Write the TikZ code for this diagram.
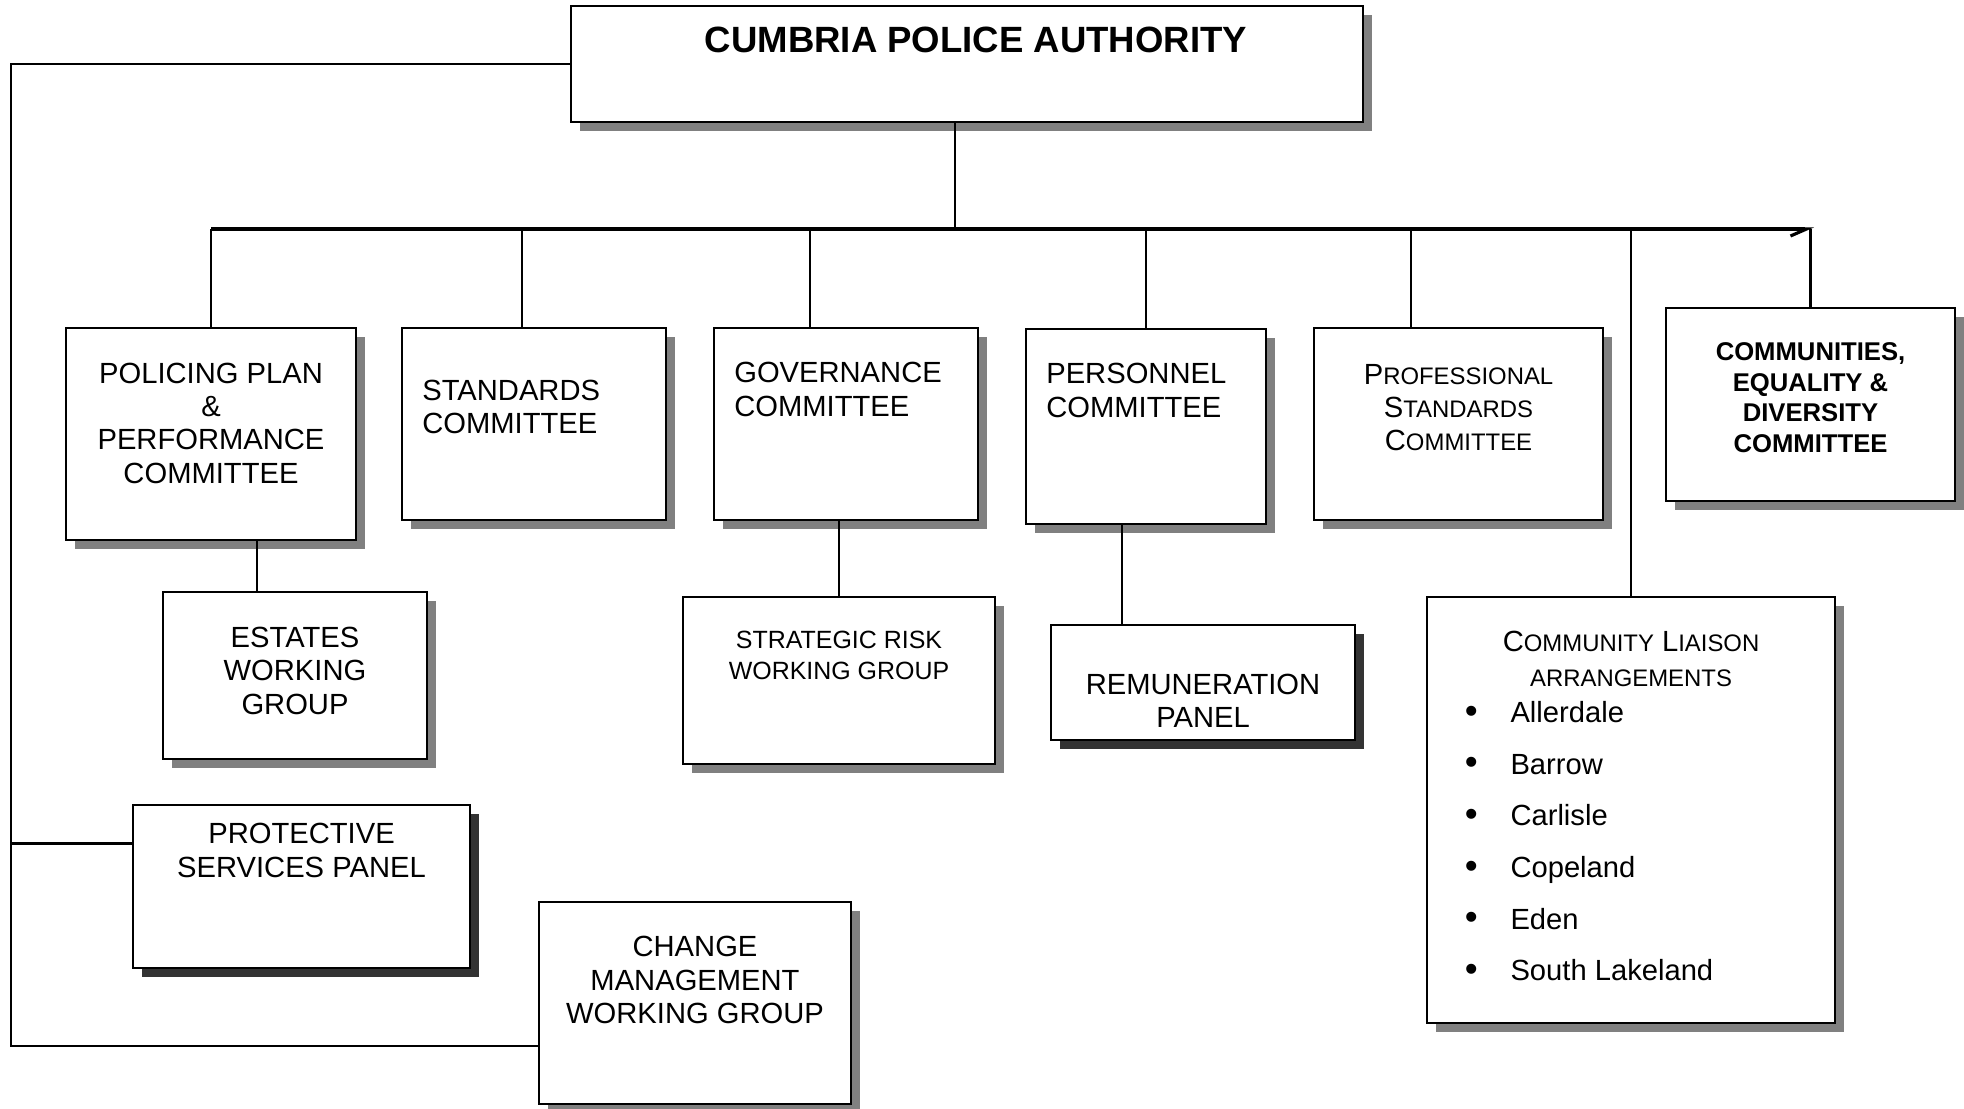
\documentclass[tikz,border=0pt]{standalone}
\usepackage{fontspec}
\setmainfont{Liberation Sans}
\usepackage{tikz}
\usetikzlibrary{arrows.meta,shadows,positioning,calc}
\definecolor{shadegray}{RGB}{128,128,128}
\definecolor{shadedark}{RGB}{51,51,51}
\newcommand{\sca}[1]{{\fontsize{6.8}{8}\selectfont #1}}
\newcommand{\blt}{\makebox[13pt][l]{\raisebox{-0.2pt}{\fontsize{10.5}{10}\selectfont\textbullet}}}

\begin{document}
\begin{tikzpicture}[
    unit/.style={rectangle, draw, fill=white, line width=0.8pt, inner sep=0pt,
        drop shadow={shadow xshift=0.09cm, shadow yshift=-0.09cm, fill=#1, opacity=1}},
    unit/.default=shadegray,
    txt/.style={align=center, inner sep=0pt, yshift=-0.025cm, font=\fontsize{8.3}{9.5}\selectfont},
    lefttxt/.style={txt, align=left},
    link/.style={line width=0.6pt},
    bus/.style={line width=0.9pt}
]
    \useasboundingbox (0,0) rectangle (19.64,-11.08);

    \node[unit, minimum width=7.92cm, minimum height=1.16cm] (cpa) at (9.67,-0.64) {};
    \node[txt, font=\fontsize{10.4}{12}\selectfont\bfseries] (cpa-t) at ([xshift=0.09cm, yshift=-0.33cm]cpa.north) {CUMBRIA POLICE AUTHORITY};

    \node[unit, minimum width=2.90cm, minimum height=2.12cm] (policing) at (2.11,-4.34) {};
    \node[txt] (policing-t) at ([yshift=-0.94cm]policing.north) {POLICING PLAN\\\&\\PERFORMANCE\\COMMITTEE};

    \node[unit, minimum width=2.64cm, minimum height=1.92cm] (standards) at (5.34,-4.24) {};
    \node[lefttxt, anchor=west] (standards-t) at ([xshift=0.21cm, yshift=-0.78cm]standards.north west) {STANDARDS\\COMMITTEE};

    \node[unit, minimum width=2.64cm, minimum height=1.92cm] (governance) at (8.46,-4.24) {};
    \node[lefttxt, anchor=west] (governance-t) at ([xshift=0.21cm, yshift=-0.605cm]governance.north west) {GOVERNANCE\\COMMITTEE};

    \node[unit, minimum width=2.40cm, minimum height=1.95cm] (personnel) at (11.46,-4.265) {};
    \node[lefttxt, anchor=west] (personnel-t) at ([xshift=0.21cm, yshift=-0.605cm]personnel.north west) {PERSONNEL\\COMMITTEE};

    \node[unit, minimum width=2.89cm, minimum height=1.92cm] (profstd) at (14.585,-4.24) {};
    \node[txt] (profstd-t) at ([yshift=-0.785cm]profstd.north) {P\sca{ROFESSIONAL}\\S\sca{TANDARDS}\\C\sca{OMMITTEE}};

    \node[unit, minimum width=2.89cm, minimum height=1.93cm] (equality) at (18.105,-4.045) {};
    \node[txt, font=\fontsize{7.3}{8.7}\selectfont\bfseries] (equality-t) at ([yshift=-0.885cm]equality.north) {COMMUNITIES,\\EQUALITY \&\\DIVERSITY\\COMMITTEE};

    \node[unit, minimum width=2.64cm, minimum height=1.67cm] (estates) at (2.95,-6.755) {};
    \node[txt] (estates-t) at ([yshift=-0.775cm]estates.north) {ESTATES\\WORKING\\GROUP};

    \node[unit, minimum width=3.12cm, minimum height=1.67cm] (risk) at (8.39,-6.805) {};
    \node[txt, font=\fontsize{7.1}{8.8}\selectfont] (risk-t) at ([yshift=-0.575cm]risk.north) {STRATEGIC RISK\\WORKING GROUP};

    \node[unit=shadedark, minimum width=3.04cm, minimum height=1.15cm] (remuneration) at (12.03,-6.825) {};
    \node[txt] (remuneration-t) at ([yshift=-0.745cm]remuneration.north) {REMUNERATION\\PANEL};

    \node[unit, minimum width=4.08cm, minimum height=4.26cm] (liaison) at (16.31,-8.10) {};
    \node[txt, font=\fontsize{8.3}{9.9}\selectfont] (liaison-t) at ([yshift=-0.605cm]liaison.north) {C\sca{OMMUNITY} L\sca{IAISON}\\\sca{ARRANGEMENTS}};
    \node[lefttxt, anchor=north west, font=\fontsize{8.3}{14.7}\selectfont] (districts) at ([xshift=0.385cm, yshift=-1.025cm]liaison.north west)
        {\blt Allerdale\\
         \blt Barrow\\
         \blt Carlisle\\
         \blt Copeland\\
         \blt Eden\\
         \blt South Lakeland};

    \node[unit=shadedark, minimum width=3.37cm, minimum height=1.63cm] (protective) at (3.015,-8.865) {};
    \node[txt] (protective-t) at ([yshift=-0.445cm]protective.north) {PROTECTIVE\\SERVICES PANEL};

    \node[unit, minimum width=3.12cm, minimum height=2.02cm] (change) at (6.95,-10.03) {};
    \node[txt] (change-t) at ([yshift=-0.77cm]change.north) {CHANGE\\MANAGEMENT\\WORKING GROUP};

    \coordinate (busL) at (2.11,-2.29);
    \coordinate (busR) at (18.14,-2.29);
    \coordinate (cpa-out) at ([xshift=-0.12cm]cpa.south);
    \coordinate (standards-in) at ([xshift=-0.12cm]standards.north);
    \coordinate (governance-in) at ([xshift=-0.36cm]governance.north);
    \coordinate (profstd-in) at ([xshift=-0.475cm]profstd.north);
    \coordinate (estates-in) at ([xshift=-0.38cm]estates.north);
    \coordinate (remuneration-in) at ([xshift=-0.81cm]remuneration.north);
    \coordinate (protective-in) at ([yshift=0.43cm]protective.west);
    \coordinate (rail) at (0.11,-10.46);

    \draw[bus, -{Straight Barb[right, length=1.6mm, width=1.4mm]}] (busL) -- (busR);
    \draw[link] (cpa-out) -- (cpa-out |- busL);
    \foreach \n in {policing.north, standards-in, governance-in, personnel.north, profstd-in, liaison.north, equality.north}
        \draw[link] (\n) -- (\n |- busL);

    \draw[link] (estates-in) -- (estates-in |- policing.south);
    \draw[link] (risk.north) -- (risk.north |- governance.south);
    \draw[link] (remuneration-in) -- (remuneration-in |- personnel.south);

    \draw[link] (cpa.west) -| (rail) -- (rail -| change.west);
    \draw[link] (protective-in) -- (protective-in -| rail);
\end{tikzpicture}
\end{document}
